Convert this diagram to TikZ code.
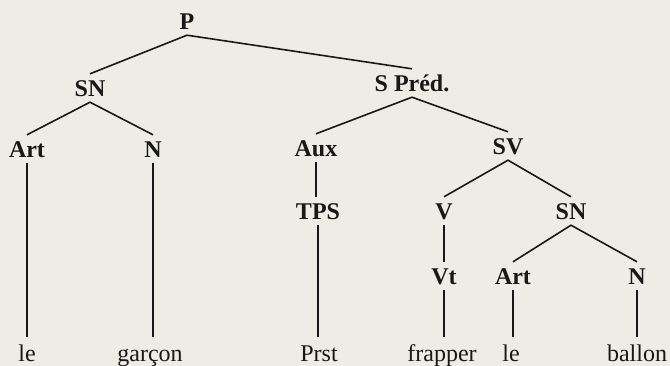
\documentclass[tikz,border=0pt]{standalone}
\usepackage{fontspec}
\setmainfont{Liberation Serif}
\definecolor{paper}{RGB}{237,236,229}
\definecolor{ink}{RGB}{24,24,24}
\begin{document}
\begin{tikzpicture}[x=1pt,y=-1pt,
    cat/.style={font=\fontsize{24}{28}\selectfont\bfseries,text=ink,anchor=base,inner xsep=2pt,inner ysep=4pt,text height=19pt,text depth=1pt},
    word/.style={font=\fontsize{24}{28}\selectfont,text=ink,anchor=base,inner xsep=2pt,inner ysep=4pt,text height=21pt,text depth=5pt},
    branch/.style={draw=ink,line width=1.6pt}]
  \fill[paper] (0,0) rectangle (670,366);
  \useasboundingbox (0,0) rectangle (670,366);
  \node[cat] (P) at (187,30) {P};
  \node[cat] (SN) at (90,97) {SN};
  \node[cat] (SPred) at (412,92) {S Préd.};
  \node[cat] (Art) at (27,158) {Art};
  \node[cat] (N) at (153,158) {N};
  \node[cat] (Aux) at (316,157) {Aux};
  \node[cat] (SV) at (508,155) {SV};
  \node[cat] (TPS) at (318,220) {TPS};
  \node[cat] (V) at (444,220) {V};
  \node[cat] (SNb) at (571,220) {SN};
  \node[cat] (Vt) at (444,285) {Vt};
  \node[cat] (Artb) at (513,285) {Art};
  \node[cat] (Nb) at (637,285) {N};
  \node[word] (le) at (27,362) {le};
  \node[word] (garcon) at (150,362) {garçon};
  \node[word] (Prst) at (319,362) {Prst};
  \node[word] (frapper) at (442,362) {frapper};
  \node[word] (leb) at (511,362) {le};
  \node[word] (ballon) at (637,362) {ballon};
  \draw[branch] (SN.north) -- (P.south) -- (SPred.north);
  \draw[branch] (Art.north) -- (SN.south) -- (N.north);
  \draw[branch] (Aux.north) -- (SPred.south) -- (SV.north);
  \draw[branch] (V.north) -- (SV.south) -- (SNb.north);
  \draw[branch] (Artb.north) -- (SNb.south) -- (Nb.north);
  \draw[branch] (Art.south) -- (Art.south |- le.north);
  \draw[branch] (N.south) -- (N.south |- garcon.north);
  \draw[branch] (Aux.south) -- (Aux.south |- TPS.north);
  \draw[branch] (TPS.south) -- (TPS.south |- Prst.north);
  \draw[branch] (V.south) -- (V.south |- Vt.north);
  \draw[branch] (Vt.south) -- (Vt.south |- frapper.north);
  \draw[branch] (Artb.south) -- (Artb.south |- leb.north);
  \draw[branch] (Nb.south) -- (Nb.south |- ballon.north);
\end{tikzpicture}
\end{document}
